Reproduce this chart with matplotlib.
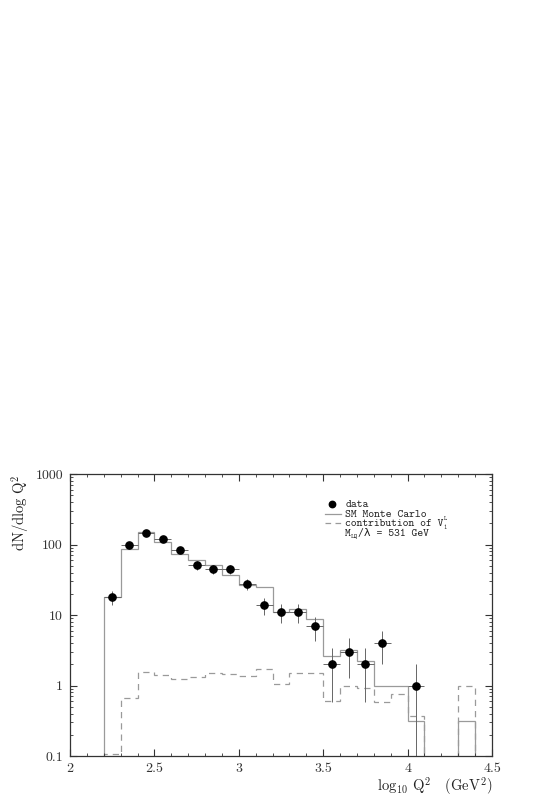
import numpy as np
import matplotlib
matplotlib.use("Agg")
import matplotlib.pyplot as plt
from matplotlib.lines import Line2D

plt.rcParams['font.family'] = 'serif'
plt.rcParams['font.serif'] = ['cmr10', 'DejaVu Serif']
plt.rcParams['mathtext.fontset'] = 'cm'
plt.rcParams['axes.formatter.use_mathtext'] = True

# ---- data ----
bin_edges = [2.2, 2.3, 2.4, 2.5, 2.6, 2.7, 2.8, 2.9, 3.0, 3.1, 3.2, 3.3,
             3.4, 3.5, 3.6, 3.7, 3.8, 3.9, 4.0, 4.1, 4.2, 4.3, 4.4]
sm_mc = [18, 86, 152, 108, 73, 60, 51, 37, 27, 25, 11, 12,
         8.7, 2.6, 3.2, 2.25, 1.0, 1.0, 0.31, 0, 0, 0.31]
v1l = [0.106, 0.66, 1.55, 1.42, 1.23, 1.31, 1.51, 1.47, 1.36, 1.71, 1.05, 1.5,
       1.48, 0.60, 1.0, 0.93, 0.59, 0.75, 0.37, 0, 0, 1.0]

data_x = [2.25, 2.35, 2.45, 2.55, 2.65, 2.75, 2.85, 2.95, 3.05, 3.15, 3.25,
          3.35, 3.45, 3.55, 3.65, 3.75, 3.85, 4.05]
data_y = [18, 97, 145, 118, 84, 51, 44.5, 44.5, 27.5, 13.8, 10.9,
          10.9, 6.9, 2.0, 3.0, 2.0, 4.0, 1.0]
data_err = [4.2, 9.8, 12.0, 10.9, 9.2, 7.1, 6.7, 6.7, 5.2, 3.7, 3.3,
            3.3, 2.6, 1.41, 1.73, 1.41, 2.0, 1.0]
data_xerr = 0.05

xticks = [2, 2.5, 3, 3.5, 4, 4.5]
xticklabels = ['2', '2.5', '3', '3.5', '4', '4.5']
yticks = [0.1, 1, 10, 100, 1000]
yticklabels = ['0.1', '1', '10', '100', '1000']

W, H = 558, 801
fig = plt.figure(figsize=(W / 100, H / 100), dpi=100)
ax = fig.add_axes([70 / W, (H - 756) / H, 422 / W, 282 / H])
ax.set_yscale('log', nonpositive='clip')
ax.set_xlim(2, 4.5)
ax.set_ylim(0.1, 1000)

hist_col = '#9a9a9a'
ax.stairs(sm_mc, bin_edges, baseline=0, color=hist_col, lw=0.9)
ax.stairs(v1l, bin_edges, baseline=0, color=hist_col, lw=0.9,
          linestyle=(0, (5, 4)))

ax.errorbar(data_x, data_y, yerr=data_err, xerr=data_xerr, fmt='o',
            color='black', ms=5.2, ecolor='#666666', elinewidth=0.7,
            capsize=0)

ax.set_xticks(xticks)
ax.set_xticklabels(xticklabels)
ax.set_xticks(np.arange(2.0, 4.5, 0.1), minor=True)
ax.set_yticks(yticks)
ax.set_yticklabels(yticklabels)
ax.tick_params(which='both', direction='in', top=True, right=True,
               labelsize=10, colors='#333333')
ax.tick_params(which='major', length=5, width=0.8, pad=5)
ax.tick_params(which='minor', length=2.5, width=0.6)
for s in ax.spines.values():
    s.set_linewidth(0.9)
    s.set_color('#333333')

# legend (manual)
tr = ax.transAxes
ax.plot([0.621], [0.894], 'o', color='black', ms=4.6, transform=tr)
ax.add_line(Line2D([0.604, 0.642], [0.858, 0.858], color=hist_col, lw=0.9,
                   transform=tr))
ax.add_line(Line2D([0.604, 0.642], [0.825, 0.825], color=hist_col, lw=0.9,
                   linestyle=(0, (4.5, 3.5)), transform=tr))

lx = 0.652
lfam = ['cmtt10', 'DejaVu Sans Mono']
fs = 8
tc = '#222222'
ax.text(lx, 0.883, 'data', transform=tr, fontsize=fs, family=lfam,
        va='baseline', color=tc)
ax.text(lx, 0.8475, 'SM Monte Carlo', transform=tr, fontsize=fs, family=lfam,
        va='baseline', color=tc)
y3 = 0.8145
t3 = ax.text(lx, y3, 'contribution of V', transform=tr, fontsize=fs,
             family=lfam, va='baseline', color=tc)
ax.annotate('L', xy=(1, y3 + 0.024), xycoords=(t3, tr), fontsize=4.5,
            family=lfam, va='baseline', ha='left', color=tc)
ax.annotate('1', xy=(1, y3 - 0.008), xycoords=(t3, tr), fontsize=4.5,
            family=lfam, va='baseline', ha='left', color=tc)
y4 = 0.781
t4a = ax.text(lx, y4, 'M', transform=tr, fontsize=fs, family=lfam,
              va='baseline', color=tc)
t4b = ax.annotate('LQ', xy=(1, y4 - 0.008), xycoords=(t4a, tr), fontsize=5,
                  family=lfam, va='baseline', ha='left', color=tc,
                  weight='bold')
ax.annotate('/\u03bb = 531 GeV', xy=(1, y4), xycoords=(t4b, tr), fontsize=fs,
            family=lfam, va='baseline', ha='left', color=tc)

fig.text(20 / W, (H - 474) / H, r'dN/dlog Q$^2$', rotation=90, ha='center',
         va='top', fontsize=10.5, color='#222222')
fig.text(492 / W, (H - 786) / H, r'log$_{10}$ Q$^2$   (GeV$^2$)', ha='right',
         va='center', fontsize=10.5, color='#222222')

fig.savefig('out.png', dpi=100)
